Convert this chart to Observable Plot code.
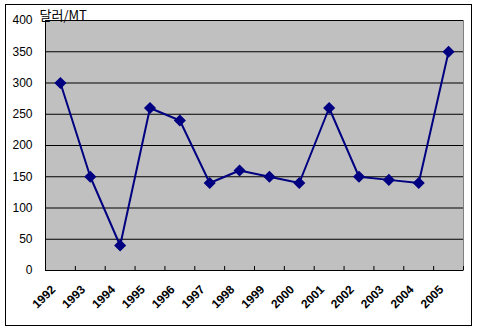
<!DOCTYPE html>
<html>
<head>
<meta charset="utf-8">
<script src="https://cdn.jsdelivr.net/npm/d3@7"></script>
<script src="https://cdn.jsdelivr.net/npm/@observablehq/plot@0.6"></script>
<style>
  html, body { margin: 0; padding: 0; background: #fff; }
  #wrap { position: relative; width: 477px; height: 333px; }
  #border { position: absolute; left: 5px; top: 4px; width: 467px; height: 322px; box-sizing: border-box; border: 1px solid #000; pointer-events: none; }
  svg { position: absolute; left: 0; top: 0; }
</style>
</head>
<body>
<div id="wrap"><div id="border"></div></div>
<script>
const years = ["1992","1993","1994","1995","1996","1997","1998","1999","2000","2001","2002","2003","2004","2005"];
const prices = [300, 150, 40, 260, 240, 140, 160, 150, 140, 260, 150, 145, 140, 350];
const yTicks = [0, 50, 100, 150, 200, 250, 300, 350, 400];
const unitLabel = "달러/MT";

const data = years.map((y, i) => ({idx: i + 0.5, year: y, value: prices[i]}));
const n = years.length;
const font = "'Liberation Sans', Arial, sans-serif";

const chart = Plot.plot({
  width: 477,
  height: 333,
  marginLeft: 45,
  marginRight: 14,
  marginTop: 20,
  marginBottom: 63,
  style: {fontFamily: font, fontSize: "12px", color: "#000", background: "transparent", overflow: "visible"},
  x: {type: "linear", domain: [0, n]},
  y: {domain: [0, 400]},
  marks: [
    Plot.frame({fill: "#c0c0c0", stroke: "#808080"}),
    Plot.gridY(yTicks, {stroke: "#000", strokeOpacity: 1, strokeWidth: 1}),
    Plot.axisY(yTicks, {tickSize: 0, tickPadding: 13, fontSize: 12, label: null}),
    Plot.axisX(d3.range(n + 1), {tickSize: -4, tickFormat: () => "", label: null, stroke: "#000"}),
    Plot.axisX(data.map(d => d.idx), {tickSize: 0, tickPadding: 12, dx: -7, dy: 5, tickRotate: -45, tickFormat: d => years[Math.floor(d)], fontSize: 12, fontWeight: "bold", label: null}),
    Plot.ruleX([0], {stroke: "#000"}),
    Plot.ruleY([0], {stroke: "#000"}),
    Plot.line(data, {x: "idx", y: "value", stroke: "#000080", strokeWidth: 2}),
    Plot.dot(data, {x: "idx", y: "value", symbol: "diamond2", r: 4.5, fill: "#000080", stroke: "#000080"}),
    Plot.text([unitLabel], {frameAnchor: "top-left", text: d => d, dx: -6, dy: -10, textAnchor: "start", fontSize: 13, fontFamily: "'Noto Sans CJK KR', sans-serif"})
  ]
});
document.getElementById("wrap").appendChild(chart);
</script>
</body>
</html>
